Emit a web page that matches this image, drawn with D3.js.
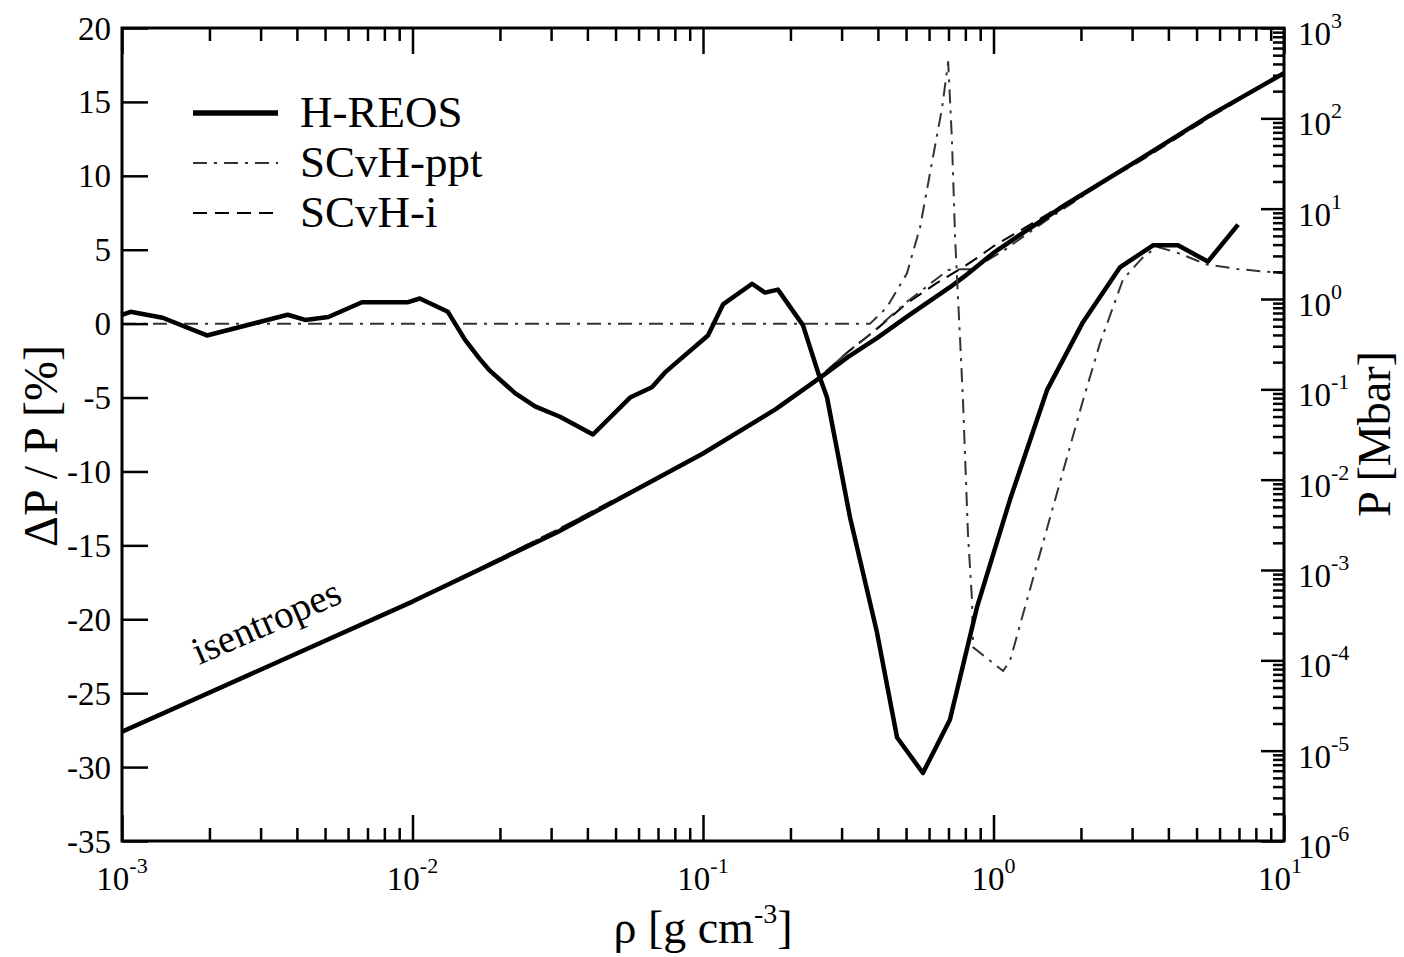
<!DOCTYPE html>
<html>
<head>
<meta charset="utf-8">
<script src="https://cdn.jsdelivr.net/npm/d3@7"></script>
<style>
  body { margin: 0; background: #fff; }
  text { font-family: "Liberation Serif", "Times New Roman", serif; fill: #000; }
</style>
</head>
<body>
<div id="chart"></div>
<script>
var width = 1404;
var height = 957;

// Plot frame in pixels
var plotLeft = 122, plotRight = 1284, plotTop = 28, plotBottom = 841;

// Tick values
var xMajor = [1e-3, 1e-2, 1e-1, 1, 10];
var yLeftTicks = [-35, -30, -25, -20, -15, -10, -5, 0, 5, 10, 15, 20];
var yRightMajor = [1e-6, 1e-5, 1e-4, 1e-3, 1e-2, 1e-1, 1, 10, 100, 1000];

// Isentropes (right axis): density [g/cm3] and pressure [Mbar]
var isoRho    = [0.001, 0.00316, 0.01, 0.0316, 0.1, 0.178, 0.251, 0.316, 0.398, 0.501, 0.631, 0.708, 0.794, 0.891, 1.0, 1.26, 1.78, 3.16, 5.62, 10];
var isoHREOS  = [1.62e-5, 8.5e-5, 4.47e-4, 2.63e-3, 1.95e-2, 6.03e-2, 0.132, 0.229, 0.372, 0.631, 1.05, 1.35, 1.78, 2.40, 3.24, 5.37, 11.2, 34.7, 110, 316];
var isoSCvHi  = [1.62e-5, 8.5e-5, 4.47e-4, 2.80e-3, 1.95e-2, 5.9e-2, 0.136, 0.261, 0.470, 0.889, 1.47, 1.84, 2.30, 2.94, 3.84, 5.93, 11.5, 33.0, 105, 316];
var pptRho    = [0.001, 0.00316, 0.01, 0.0316, 0.1, 0.178, 0.251, 0.316, 0.372, 0.501, 0.631, 0.698, 0.767, 0.843, 1.079, 1.51, 2.0, 2.82, 3.63, 5.62, 10];
var isoSCvHppt = [1.62e-5, 8.5e-5, 4.47e-4, 2.80e-3, 1.95e-2, 5.9e-2, 0.136, 0.261, 0.394, 0.918, 1.63, 2.10, 2.13, 2.13, 3.40, 7.33, 13.4, 27.7, 45.7, 109, 327];

// Pressure deviation (left axis) in percent
var devRho = [0.001, 0.00107, 0.00138, 0.00196, 0.00372, 0.00427, 0.00513, 0.0067, 0.00966, 0.0106, 0.01324,
  0.01517, 0.01706, 0.0185, 0.02254, 0.02642, 0.0322, 0.0418, 0.0561, 0.0667, 0.074, 0.104, 0.1172, 0.1476,
  0.1633, 0.1811, 0.2208, 0.2489, 0.2673, 0.3206, 0.3972, 0.4656, 0.5715, 0.7079, 0.877, 1.14, 1.528, 2.032,
  2.723, 3.54, 4.315, 5.47, 6.95];
var devHREOS = [0.6, 0.8, 0.4, -0.8, 0.6, 0.25, 0.45, 1.45, 1.45, 1.7, 0.8,
  -1.1, -2.4, -3.2, -4.7, -5.6, -6.3, -7.5, -5.0, -4.3, -3.3, -0.8, 1.3, 2.7,
  2.1, 2.3, -0.1, -3.3, -5.0, -13.1, -20.9, -28.0, -30.4, -26.8, -19.2, -11.9, -4.5, 0.1,
  3.8, 5.3, 5.3, 4.2, 6.7];
var devPptRho = [0.001, 0.376, 0.4295, 0.5035, 0.5585, 0.6194, 0.6653, 0.6982, 0.7194, 0.7379, 0.7674, 0.7852,
  0.8166, 0.8433, 0.8511, 1.079, 1.14, 1.567, 2.032, 2.328, 2.793, 3.273, 3.656, 4.285, 5.433, 6.887, 10];
var devSCvHppt = [0, 0, 1.1, 3.4, 6.5, 11.3, 14.6, 17.7, 12.4, 5.7, -1.1, -5.2,
  -14.2, -18.7, -21.9, -23.5, -22.8, -13.1, -5.2, -1.3, 3.0, 4.5, 5.2, 4.8, 4.0, 3.7, 3.4];

// Legend entries
var legendNames = ["H-REOS", "SCvH-ppt", "SCvH-i"];

var styles = {
  "H-REOS":   { width: 4.5, color: "#000", dash: null },
  "SCvH-ppt": { width: 2,   color: "#333", dash: "14,7,3,7" },
  "SCvH-i":   { width: 2,   color: "#000", dash: "14,8" }
};

var svg = d3.select("#chart").append("svg")
    .attr("width", width)
    .attr("height", height);

var x = d3.scaleLog().domain([1e-3, 10]).range([plotLeft, plotRight]);
var yL = d3.scaleLinear().domain([-35, 20]).range([plotBottom, plotTop]);
var yR = d3.scaleLog().domain([1e-6, 1e3]).range([plotBottom, plotTop]);

svg.append("clipPath").attr("id", "clip")
  .append("rect")
    .attr("x", plotLeft).attr("y", plotTop)
    .attr("width", plotRight - plotLeft).attr("height", plotBottom - plotTop);

// Draw one series from its x and y arrays
function drawSeries(xs, ys, yScale, name) {
  var st = styles[name];
  var line = d3.line()
    .x((d, i) => x(xs[i]))
    .y(d => yScale(d));
  svg.append("path")
    .datum(ys)
    .attr("clip-path", "url(#clip)")
    .attr("fill", "none")
    .attr("stroke", st.color)
    .attr("stroke-width", st.width)
    .attr("stroke-dasharray", st.dash)
    .attr("stroke-linejoin", "round")
    .attr("d", line);
}

// Isentropes
drawSeries(isoRho, isoSCvHi, yR, "SCvH-i");
drawSeries(pptRho, isoSCvHppt, yR, "SCvH-ppt");
drawSeries(isoRho, isoHREOS, yR, "H-REOS");

// Deviations
drawSeries(devPptRho, devSCvHppt, yL, "SCvH-ppt");
drawSeries(devRho, devHREOS, yL, "H-REOS");

// Axes: ticks point inward
function styleAxis(g) {
  g.select(".domain").remove();
  g.selectAll(".tick line").attr("stroke", "#000").attr("stroke-width", 2.5);
  g.selectAll(".tick text").remove();
}
var isMajor = v => Math.abs(Math.log10(v) - Math.round(Math.log10(v))) < 1e-6;
var xMinor = x.ticks().filter(v => !isMajor(v));
var yRMinor = yR.ticks().filter(v => !isMajor(v));

svg.append("g").attr("transform", `translate(0,${plotBottom})`)
  .call(d3.axisTop(x).tickValues(xMajor).tickSize(26).tickSizeOuter(0)).call(styleAxis);
svg.append("g").attr("transform", `translate(0,${plotBottom})`)
  .call(d3.axisTop(x).tickValues(xMinor).tickSize(13).tickSizeOuter(0)).call(styleAxis);
svg.append("g").attr("transform", `translate(0,${plotTop})`)
  .call(d3.axisBottom(x).tickValues(xMajor).tickSize(26).tickSizeOuter(0)).call(styleAxis);
svg.append("g").attr("transform", `translate(0,${plotTop})`)
  .call(d3.axisBottom(x).tickValues(xMinor).tickSize(13).tickSizeOuter(0)).call(styleAxis);
svg.append("g").attr("transform", `translate(${plotLeft},0)`)
  .call(d3.axisRight(yL).tickValues(yLeftTicks).tickSize(26).tickSizeOuter(0)).call(styleAxis);
svg.append("g").attr("transform", `translate(${plotRight},0)`)
  .call(d3.axisLeft(yR).tickValues(yRightMajor).tickSize(23).tickSizeOuter(0)).call(styleAxis);
svg.append("g").attr("transform", `translate(${plotRight},0)`)
  .call(d3.axisLeft(yR).tickValues(yRMinor).tickSize(11).tickSizeOuter(0)).call(styleAxis);

// Frame
svg.append("rect")
  .attr("x", plotLeft).attr("y", plotTop)
  .attr("width", plotRight - plotLeft).attr("height", plotBottom - plotTop)
  .attr("fill", "none").attr("stroke", "#000").attr("stroke-width", 3);

// Power-of-ten labels
function powLabel(sel) {
  sel.append("tspan").text("10");
  sel.append("tspan")
    .attr("font-size", 22)
    .attr("dy", -17)
    .text(d => String(Math.round(Math.log10(d))));
}

svg.selectAll("text.xlab").data(xMajor).enter()
  .append("text").attr("class", "xlab")
    .attr("x", d => x(d) - (d == 10 ? 4 : 0))
    .attr("y", 890)
    .attr("text-anchor", "middle")
    .attr("font-size", 33)
    .call(powLabel);

svg.selectAll("text.yrlab").data(yRightMajor).enter()
  .append("text").attr("class", "yrlab")
    .attr("x", 1298)
    .attr("y", d => yR(d) + 17)
    .attr("font-size", 33)
    .call(powLabel);

svg.selectAll("text.yllab").data(yLeftTicks).enter()
  .append("text").attr("class", "yllab")
    .attr("x", 111)
    .attr("y", d => yL(d))
    .attr("dy", "0.35em")
    .attr("text-anchor", "end")
    .attr("font-size", 33)
    .text(d => String(d));

// Axis titles
svg.append("text")
  .attr("transform", "translate(57,446) rotate(-90)")
  .attr("text-anchor", "middle")
  .attr("font-size", 48)
  .text("ΔP / P [%]");

svg.append("text")
  .attr("transform", "translate(1390,434) rotate(-90)")
  .attr("text-anchor", "middle")
  .attr("font-size", 46)
  .text("P [Mbar]");

var xTitle = svg.append("text")
  .attr("x", 703)
  .attr("y", 943)
  .attr("text-anchor", "middle")
  .attr("font-size", 46);
xTitle.append("tspan").text("ρ [g cm");
xTitle.append("tspan").attr("font-size", 28).attr("dy", -20).text("-3");
xTitle.append("tspan").attr("dy", 20).text("]");

// Isentropes note
svg.append("text")
  .attr("transform", "translate(199,665) rotate(-23.5)")
  .attr("font-size", 39)
  .text("isentropes");

// Legend
var legend = svg.append("g");
legendNames.forEach(function(name, i) {
  var st = styles[name];
  var ly = 113 + i * 50;
  legend.append("line")
    .attr("x1", 193).attr("x2", 278)
    .attr("y1", ly).attr("y2", ly)
    .attr("stroke", st.color)
    .attr("stroke-width", st.width + (name == "H-REOS" ? 1 : 0))
    .attr("stroke-dasharray", st.dash);
  legend.append("text")
    .attr("x", 300)
    .attr("y", ly + 14)
    .attr("font-size", 45)
    .text(name);
});
</script>
</body>
</html>
